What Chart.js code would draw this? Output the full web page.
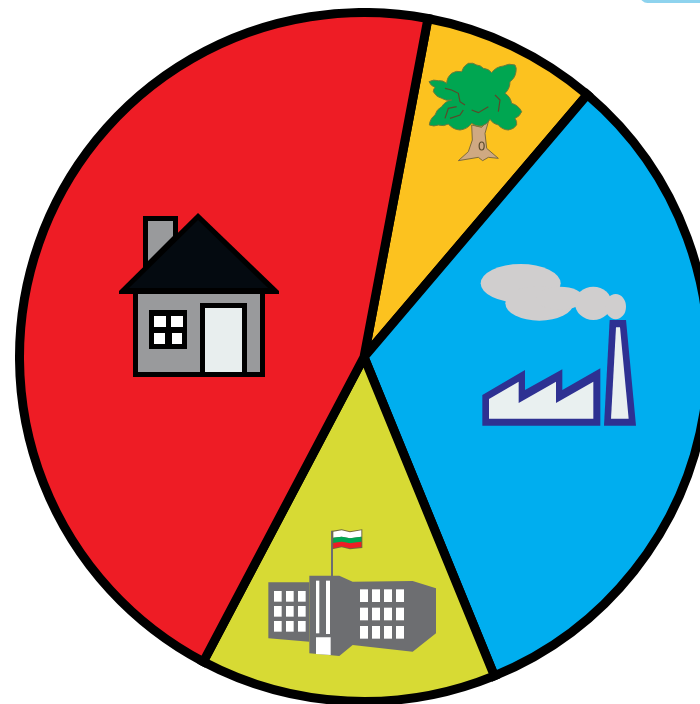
<!DOCTYPE html>
<html>
<head>
<meta charset="utf-8">
<title>Pie</title>
<script src="https://cdn.jsdelivr.net/npm/chart.js@4"></script>
<style>
  html, body { margin: 0; padding: 0; background: #fff; overflow: hidden; width: 700px; height: 704px; }
  #wrap { position: absolute; left: 15px; top: 8px; width: 698px; height: 698px; }
  #tab { position: absolute; left: 640px; top: -12px; width: 90px; height: 15px; background: #8ed3ee; border-radius: 12px; }
</style>
</head>
<body>
<div id="tab"></div>
<div id="wrap"><canvas id="myChart"></canvas></div>
<script>
const categories = ['Forest', 'Industry', 'Public buildings', 'Households'];
const shares = [8.25, 32.6, 13.9, 45.25];
const sliceColors = ['#fcc21f', '#00aeef', '#d7da34', '#ee1c25'];

// icons are traced in 3x zoom coordinates, ox/oy is the top left of the trace
function poly(ctx, ox, oy, pts, color) {
    ctx.beginPath();
    pts.forEach((p, i) => {
        const x = ox + p[0] / 3, y = oy + p[1] / 3;
        if (i === 0) ctx.moveTo(x, y); else ctx.lineTo(x, y);
    });
    ctx.closePath();
    ctx.fillStyle = color;
    ctx.fill();
}

function rect(ctx, x0, y0, x1, y1, color) {
    ctx.fillStyle = color;
    ctx.fillRect(x0, y0, x1 - x0, y1 - y0);
}

function drawHouse(ctx) {
    rect(ctx, 143, 216, 178, 270, '#000');
    ctx.beginPath();
    ctx.moveTo(148, 221); ctx.lineTo(173, 221); ctx.lineTo(173, 236); ctx.lineTo(148, 261); ctx.closePath();
    ctx.fillStyle = '#999a9c';
    ctx.fill();
    rect(ctx, 133, 288, 265, 377, '#000');
    rect(ctx, 138, 294, 260, 372, '#999a9c');
    ctx.beginPath();
    ctx.moveTo(198, 213); ctx.lineTo(279, 291); ctx.lineTo(279, 294); ctx.lineTo(119, 294); ctx.lineTo(119, 291); ctx.closePath();
    ctx.fillStyle = '#000';
    ctx.fill();
    ctx.beginPath();
    ctx.moveTo(198, 220); ctx.lineTo(268, 288); ctx.lineTo(129, 288); ctx.closePath();
    ctx.fillStyle = '#040a10';
    ctx.fill();
    rect(ctx, 200, 303, 247, 377, '#000');
    rect(ctx, 205, 308, 242, 372, '#e8eeee');
    rect(ctx, 149, 310, 187, 349, '#000');
    rect(ctx, 154, 316, 166, 327, '#fff');
    rect(ctx, 171, 316, 183, 327, '#fff');
    rect(ctx, 154, 333, 165, 344, '#fff');
    rect(ctx, 172, 333, 182, 344, '#fff');
}

function drawTree(ctx) {
    const ox = 410, oy = 50;
    const canopy = [[57,95],[85,92],[110,100],[125,70],[155,65],[175,40],[200,45],[220,55],[245,68],[280,48],[315,45],[318,65],[300,95],[285,130],[305,160],[335,185],[315,205],[320,225],[295,240],[265,225],[240,208],[215,228],[185,220],[150,240],[115,222],[85,225],[58,225],[75,195],[95,170],[125,150],[95,145],[70,125],[75,112]];
    const trunk = [[185,225],[215,232],[238,205],[225,250],[230,295],[265,325],[235,322],[218,332],[205,322],[145,332],[175,305],[187,270]];
    poly(ctx, ox, oy, trunk, '#cfa982');
    ctx.strokeStyle = '#7d6b3c';
    ctx.lineWidth = 1;
    ctx.stroke();
    // scalloped edge: each segment bulges outwards
    ctx.beginPath();
    canopy.forEach((p, i) => {
        const n = canopy[(i + 1) % canopy.length];
        const x = ox + p[0] / 3, y = oy + p[1] / 3, nx = ox + n[0] / 3, ny = oy + n[1] / 3;
        if (i === 0) ctx.moveTo(x, y);
        ctx.quadraticCurveTo((x + nx) / 2 + (ny - y) * 0.22, (y + ny) / 2 - (nx - x) * 0.22, nx, ny);
    });
    ctx.closePath();
    ctx.fillStyle = '#00a651';
    ctx.fill();
    ctx.strokeStyle = '#6f7a3a';
    ctx.stroke();
    ctx.strokeStyle = '#5a4a2a';
    ctx.lineWidth = 1.2;
    [[[105,115],[125,120],[145,130],[150,155],[165,165]], [[105,205],[115,175],[140,170]], [[120,205],[150,195],[160,180]], [[185,180],[205,188],[235,170]], [[255,135],[270,150],[265,185]]].forEach(line => {
        ctx.beginPath();
        line.forEach((p, i) => {
            if (i === 0) ctx.moveTo(ox + p[0] / 3, oy + p[1] / 3); else ctx.lineTo(ox + p[0] / 3, oy + p[1] / 3);
        });
        ctx.stroke();
    });
    ctx.beginPath();
    ctx.ellipse(ox + 215 / 3, oy + 288 / 3, 2.5, 4, 0, 0, Math.PI * 2);
    ctx.stroke();
}

function drawFactory(ctx) {
    const ox = 470, oy = 255;
    ctx.fillStyle = '#d0cece';
    [[152,85,120,58],[208,145,102,52],[270,130,70,35],[370,145,55,50],[437,155,31,38]].forEach(e => {
        ctx.beginPath();
        ctx.ellipse(ox + e[0] / 3, oy + e[1] / 3, e[2] / 3, e[3] / 3, 0, 0, Math.PI * 2);
        ctx.fill();
    });
    poly(ctx, ox, oy, [[37,420],[165,345],[165,405],[277,343],[277,405],[391,340],[391,512],[37,512]], '#2e3192');
    poly(ctx, ox, oy, [[57,432],[146,380],[146,444],[258,380],[258,444],[370,380],[370,491],[57,491]], '#e9f0f0');
    poly(ctx, ox, oy, [[419,195],[468,195],[498,512],[402,512]], '#2e3192');
    poly(ctx, ox, oy, [[438,217],[450,217],[476,491],[423,491]], '#e9f0f0');
}

function drawSchool(ctx) {
    const ox = 260, oy = 520, grey = '#6d6e71';
    poly(ctx, ox, oy, [[213,32],[219,32],[219,170],[213,170]], grey);
    poly(ctx, ox, oy, [[25,187],[148,187],[148,365],[25,355]], grey);
    poly(ctx, ox, oy, [[148,167],[238,167],[278,185],[458,183],[528,205],[528,340],[458,395],[278,375],[238,408],[148,400]], grey);
    [42, 78, 114].forEach(x => [213, 258, 303].forEach(y => {
        poly(ctx, ox, oy, [[x,y],[x+23,y],[x+23,y+32],[x,y+32]], '#fff');
    }));
    [300, 336, 372, 408].forEach(x => [208, 263, 318].forEach(y => {
        poly(ctx, ox, oy, [[x,y],[x+24,y],[x+24,y+38],[x,y+38]], '#fff');
    }));
    poly(ctx, ox, oy, [[168,182],[178,182],[178,340],[168,340]], '#fff');
    poly(ctx, ox, oy, [[198,182],[210,182],[210,342],[198,342]], '#fff');
    poly(ctx, ox, oy, [[168,352],[212,352],[212,405],[168,402]], '#fff');
    // flag
    poly(ctx, ox, oy, [[217,32],[245,28],[270,34],[307,28],[307,84],[270,88],[245,82],[217,88]], '#6f6a3f');
    poly(ctx, ox, oy, [[220,35],[245,31],[270,37],[304,31],[304,50],[270,55],[245,50],[220,53]], '#fff');
    poly(ctx, ox, oy, [[220,53],[245,50],[270,55],[304,50],[304,65],[270,70],[245,65],[220,69]], '#00a651');
    poly(ctx, ox, oy, [[220,69],[245,65],[270,70],[304,65],[304,81],[270,85],[245,79],[220,85]], '#ee1c25');
}

const iconsPlugin = {
    id: 'icons',
    afterDraw(chart) {
        const ctx = chart.ctx;
        const arc = chart.getDatasetMeta(0).data[0];
        ctx.save();
        // traced in page pixels, centre of the pie is at 364,357 there
        ctx.translate(arc.x - 364, arc.y - 357);
        drawHouse(ctx);
        drawTree(ctx);
        drawFactory(ctx);
        drawSchool(ctx);
        ctx.restore();
    }
};

new Chart(document.getElementById('myChart').getContext('2d'), {
    type: 'pie',
    data: {
        labels: categories,
        datasets: [{
            data: shares,
            backgroundColor: sliceColors,
            borderColor: '#000',
            borderWidth: 9,
            borderJoinStyle: 'miter',
            hoverOffset: 0
        }]
    },
    options: {
        responsive: true,
        maintainAspectRatio: false,
        animation: false,
        rotation: 10.7,
        layout: { padding: 0 },
        plugins: { legend: { display: false }, tooltip: { enabled: false } }
    },
    plugins: [iconsPlugin]
});
</script>
</body>
</html>
